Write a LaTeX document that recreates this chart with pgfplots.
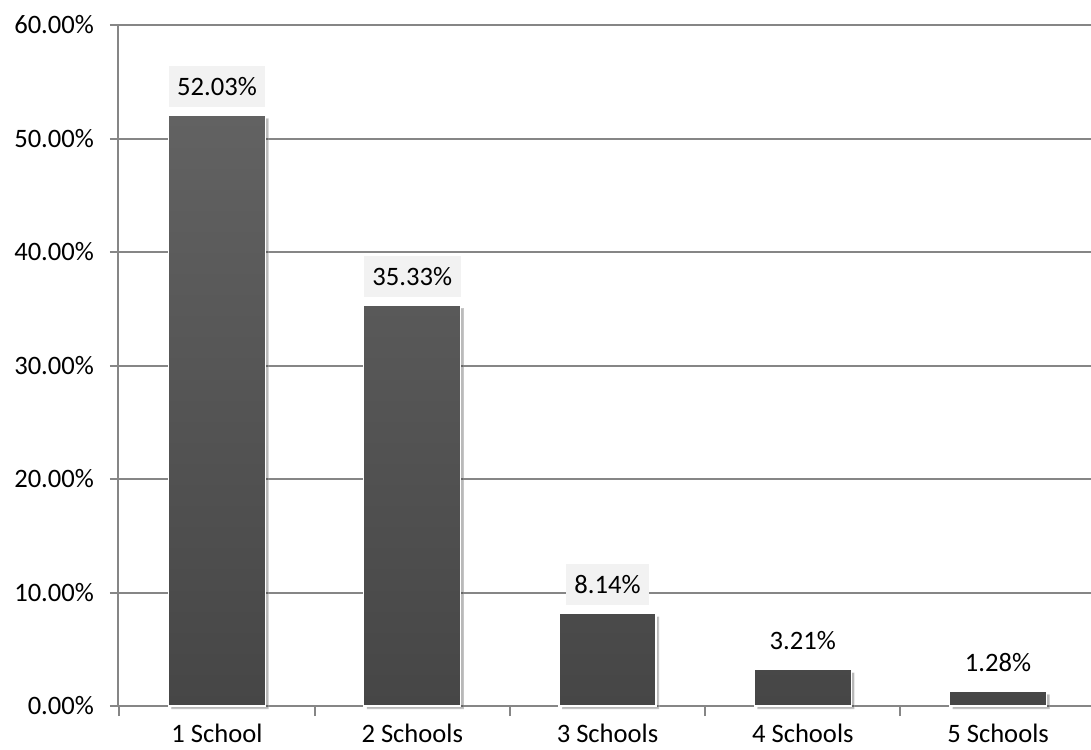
\documentclass[border=0pt]{standalone}
\usepackage{fontspec}
\setmainfont{Carlito}
\usepackage{pgfplots}
\pgfplotsset{compat=1.18}
\usetikzlibrary{shadows}
\definecolor{axgray}{HTML}{868686}
\definecolor{bartop}{HTML}{626262}
\definecolor{barbot}{HTML}{464646}
\definecolor{lblbg}{HTML}{F2F2F2}
\begin{document}
\begin{tikzpicture}
\begin{axis}[
  scale only axis, width=486.5pt, height=340.5pt,
  xmin=-0.507, xmax=4.476, ymin=0, ymax=60,
  axis lines*=left,
  axis line style={axgray, line width=1pt},
  ymajorgrids, grid style={axgray, line width=1pt},
  ytick={0,10,...,60},
  /pgf/number format/assume math mode=true,
  yticklabel={\pgfmathprintnumber[fixed,fixed zerofill,precision=2]{\tick}\%},
  xtick={0,1,2,3,4},
  xticklabels={1 School,2 Schools,3 Schools,4 Schools,5 Schools},
  minor xtick={-0.5,0.5,1.5,2.5,3.5},
  tick align=outside, major tick length=4pt, minor tick length=5pt,
  tick style={axgray, line width=1pt},
  major x tick style={draw=none},
  ticklabel style={font=\fontsize{13.3}{15}\selectfont, text=black},
  yticklabel style={xshift=-4.5pt},
  xticklabel style={yshift=-1.5pt},
  ybar, bar width=48.5pt,
  clip=false,
]
\addplot[bar shift=0pt, draw=white, line width=0.6pt, top color=bartop, bottom color=barbot,
  drop shadow={shadow xshift=1.5pt, shadow yshift=-1.5pt, opacity=0.18, fill=black}]
  coordinates {(0,52.03) (1,35.33) (2,8.14) (3,3.21) (4,1.28)};
\addplot[bar shift=0pt, draw=none, fill=none,
  nodes near coords={\pgfmathprintnumber[fixed,fixed zerofill,precision=2]{\pgfplotspointmeta}\%},
  every node near coord/.append style={font=\fontsize{13.3}{15}\selectfont, text=black,
    fill=lblbg, anchor=south, yshift=4pt, inner xsep=4.25pt, minimum height=20.5pt}]
  coordinates {(0,52.03) (1,35.33) (2,8.14)};
\addplot[bar shift=0pt, draw=none, fill=none,
  nodes near coords={\pgfmathprintnumber[fixed,fixed zerofill,precision=2]{\pgfplotspointmeta}\%},
  every node near coord/.append style={font=\fontsize{13.3}{15}\selectfont, text=black,
    anchor=south, yshift=4pt, inner xsep=4.25pt, minimum height=20.5pt}]
  coordinates {(3,3.21) (4,1.28)};
\end{axis}
\pgfresetboundingbox
\useasboundingbox (-59pt,-21.5pt) rectangle (486.5pt,353pt);
\end{tikzpicture}
\end{document}
